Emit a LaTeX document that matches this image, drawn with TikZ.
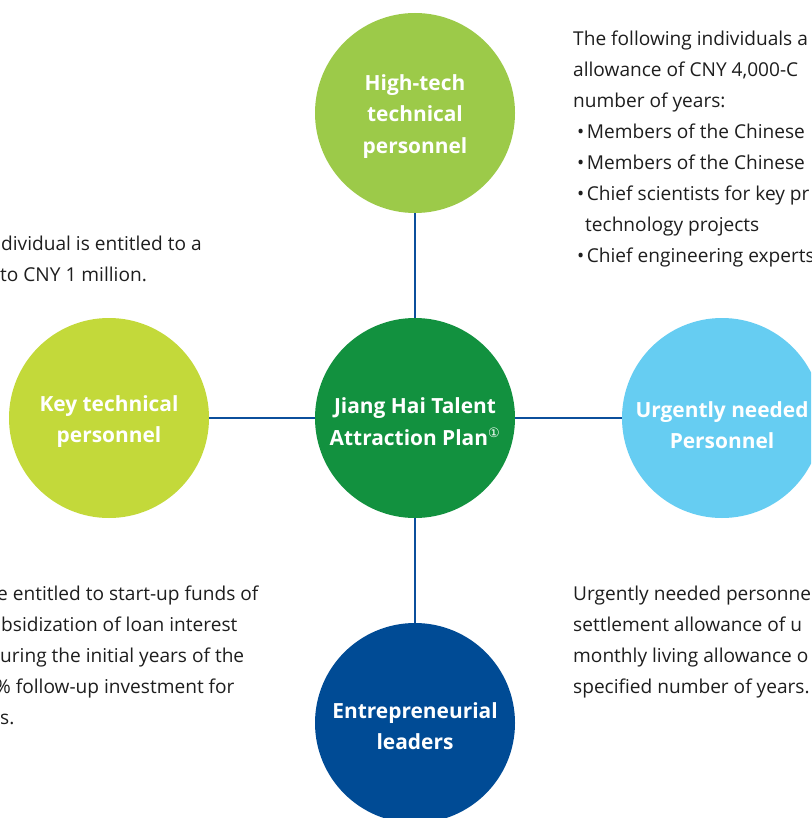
\documentclass[tikz,border=0pt]{standalone}
\usepackage{fontspec}
\setmainfont{Open Sans}
\newfontfamily\symfont{DejaVu Sans}
\definecolor{ctop}{HTML}{9CCA49}
\definecolor{cleft}{HTML}{C3D93A}
\definecolor{ccenter}{HTML}{12913F}
\definecolor{cright}{HTML}{66CDF2}
\definecolor{cbottom}{HTML}{004B95}
\definecolor{cline}{HTML}{0B4F9C}
\definecolor{ctext}{HTML}{1E1E1E}
\tikzset{
  bubble/.style={circle, minimum size=200pt, inner sep=0pt},
  btext/.style={text=white, align=center, inner sep=0pt,
    font=\bfseries\fontsize{20.9}{31.5}\selectfont},
  conn/.style={draw=cline, line width=2.6pt},
  body/.style={inner sep=0pt, text=ctext, font=\fontsize{19.1}{31}\selectfont, anchor=base west}
}
\begin{document}
\begin{tikzpicture}[x=1pt,y=-1pt]
\useasboundingbox (0,0) rectangle (811,818);
\clip (0,0) rectangle (811,818);
\fill[white] (0,0) rectangle (811,818);
% circles
\node[bubble, fill=ccenter,
  label={[btext, yshift=-3.5pt]center:{Jiang Hai Talent\\Attraction Plan\textsuperscript{\symfont\fontseries{m}\selectfont\fontsize{13}{13}\selectfont ①}}}]
  (center) at (415,418) {};
\node[bubble, fill=ctop, label={[btext, yshift=-3.5pt]center:{High-tech\\technical\\personnel}}] (top) at (415,113) {};
\node[bubble, fill=cleft, label={[btext, yshift=-3.5pt]center:{Key technical\\personnel}}] (left) at (109,418) {};
\node[bubble, fill=cright, label={[btext, yshift=-7pt]center:{Urgently needed\\Personnel}}] (right) at (722,418) {};
\node[bubble, fill=cbottom, label={[btext, yshift=-3pt]center:{Entrepreneurial\\leaders}}] (bottom) at (415,723) {};
% connectors
\draw[conn] (center) -- (top);
\draw[conn] (center) -- (left);
\draw[conn] (center) -- (right);
\draw[conn] (center) -- (bottom);
% top-right text
\foreach \t [count=\i] in {
  {The following individuals a},
  {allowance of CNY 4,000-C},
  {number of years:},
  {\hspace*{4pt}\textbullet\hspace{2.5pt}Members of the Chinese},
  {\hspace*{4pt}\textbullet\hspace{2.5pt}Members of the Chinese},
  {\hspace*{4pt}\textbullet\hspace{2.5pt}Chief scientists for key pr},
  {\hspace*{12pt}technology projects},
  {\hspace*{4pt}\textbullet\hspace{2.5pt}Chief engineering experts}}
  \node[body] (tr\i) at (573, 46+30.9*\i-30.9) {\t};
% left-top text
\node[body] (lt1) at (1,250) {dividual is entitled to a};
\node[body] (lt2) at (0,281) {to CNY 1 million.};
% bottom-left text
\node[body] (bl1) at (-3,600) {e entitled to start-up funds of};
\node[body] (bl2) at (1,631) {bsidization of loan interest};
\node[body] (bl3) at (0,662) {uring the initial years of the};
\node[body] (bl4) at (-5,693) {\% follow-up investment for};
\node[body] (bl5) at (0,724) {s.};
% bottom-right text
\node[body] (br1) at (573,600) {Urgently needed personne};
\node[body] (br2) at (573,631) {settlement allowance of u};
\node[body] (br3) at (573,662) {monthly living allowance o};
\node[body] (br4) at (573,693) {specified number of years.};
\end{tikzpicture}
\end{document}
